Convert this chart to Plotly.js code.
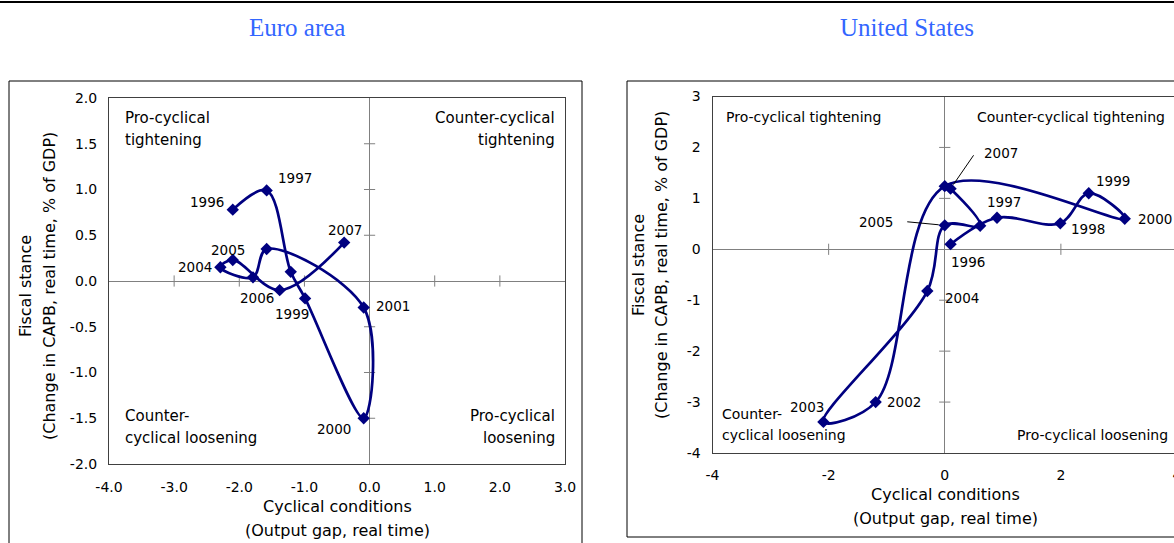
<!DOCTYPE html>
<html>
<head>
<meta charset="utf-8">
<script src="https://cdn.plot.ly/plotly-3.0.1.min.js"></script>
<style>
html, body { margin: 0; padding: 0; overflow: hidden; background: #fff; }
#chart { width: 1190px; height: 543px; }
</style>
</head>
<body>
<div id="chart"></div>
<script>
// ---------------- data ----------------
const years = ['1996','1997','1998','1999','2000','2001','2002','2003','2004','2005','2006','2007'];

// Euro area: output gap (x) and change in CAPB (y)
const euroGap    = [-2.10, -1.58, -1.21, -0.99, -0.09, -0.09, -1.58, -1.79, -2.29, -2.10, -1.38, -0.39];
const euroStance = [ 0.78,  0.99,  0.10, -0.19, -1.50, -0.29,  0.35,  0.04,  0.15,  0.23, -0.10,  0.42];

// United States
const usGap    = [0.10, 0.90, 1.99, 2.48, 3.10, 0.00, -1.19, -2.09, -0.30, 0.00, 0.61, 0.10];
const usStance = [0.10, 0.62, 0.51, 1.10, 0.60, 1.24, -3.00, -3.39, -0.82, 0.47, 0.46, 1.19];

// tick values / labels
const euroXTicks = [-4, -3, -2, -1, 0, 1, 2, 3];
const euroXTickText = ['-4.0','-3.0','-2.0','-1.0','0.0','1.0','2.0','3.0'];
const euroYTicks = [-2, -1.5, -1, -0.5, 0, 0.5, 1, 1.5, 2];
const euroYTickText = ['-2.0','-1.5','-1.0','-0.5','0.0','0.5','1.0','1.5','2.0'];
const usXTicks = [-4, -2, 0, 2, 4];
const usXTickText = ['-4','-2','0','2','4'];
const usYTicks = [-4, -3, -2, -1, 0, 1, 2, 3];
const usYTickText = ['-4','-3','-2','-1','0','1','2','3'];

// cross ticks drawn on the zero lines
const euroZeroXTicks = [-3, -2, -1, 1, 2];
const euroZeroYTicks = [-1.5, -1, -0.5, 0.5, 1, 1.5];
const usZeroXTicks = [-2, 2];
const usZeroYTicks = [-3, -2, -1, 1, 2];

// texts
const panelTitles = ['Euro area', 'United States'];
const xTitleLines = ['Cyclical conditions', '(Output gap, real time)'];
const yTitleLines = ['Fiscal stance', '(Change in CAPB, real time, % of GDP)'];
const euroQuadTL = ['Pro-cyclical', 'tightening'];
const euroQuadTR = ['Counter-cyclical', 'tightening'];
const euroQuadBL = ['Counter-', 'cyclical loosening'];
const euroQuadBR = ['Pro-cyclical', 'loosening'];
const usQuadTL = ['Pro-cyclical tightening'];
const usQuadTR = ['Counter-cyclical tightening'];
const usQuadBL = ['Counter-', 'cyclical loosening'];
const usQuadBR = ['Pro-cyclical loosening'];

// ---------------- layout helpers (pixel positions) ----------------
const W = 1190, H = 543;
const px = v => v / W;
const py = v => 1 - v / H;

const NAVY = '#000080';
const SANS = 'DejaVu Sans, Arial, sans-serif';

// label offsets in pixels (dx right, dy up) relative to the point
const euroLabelOffsets = {
  '1996': [-26, 7.5], '1997': [28.6, 12.4], '1999': [-12.6, -15.7], '2000': [-29.3, -10.4],
  '2001': [29.4, 1.5], '2004': [-25, 0.6], '2005': [-5, 10], '2006': [-23, -8.2], '2007': [0.7, 12.7]
};
const usLabelOffsets = {
  '1996': [17.4, -17.5], '1997': [7.4, 15.4], '1998': [28, -6], '1999': [24.4, 12.6],
  '2000': [30, 0], '2002': [28.5, 0], '2003': [-16.4, 15.2], '2004': [35, -7],
  '2005': [-68.5, 3.7], '2007': [50.7, 35.4]
};
// leader lines: tail offset (screen px, y down) and standoff
const usLeaders = { '2005': [-39, -3.7, 6], '2007': [24.4, -35.4, 5] };

// ---------------- traces ----------------
function pathTrace(x, y, xa, ya) {
  return {
    x: x, y: y, xaxis: xa, yaxis: ya, type: 'scatter', mode: 'lines+markers',
    line: { color: NAVY, width: 2.7, shape: 'spline', smoothing: 1 },
    marker: { symbol: 'diamond', size: 9.5, color: NAVY },
    hoverinfo: 'skip', showlegend: false, cliponaxis: false
  };
}
function tickTrace(vals, horizontal, xa, ya) {
  const zeros = vals.map(() => 0);
  return {
    x: horizontal ? vals : zeros, y: horizontal ? zeros : vals, xaxis: xa, yaxis: ya,
    type: 'scatter', mode: 'markers',
    marker: { symbol: horizontal ? 'line-ns' : 'line-ew', size: 8, color: '#808080',
              line: { width: 1, color: '#808080' } },
    hoverinfo: 'skip', showlegend: false, cliponaxis: false
  };
}

const traces = [
  tickTrace(euroZeroXTicks, true, 'x', 'y'),
  tickTrace(euroZeroYTicks, false, 'x', 'y'),
  tickTrace(usZeroXTicks, true, 'x2', 'y2'),
  tickTrace(usZeroYTicks, false, 'x2', 'y2'),
  pathTrace(euroGap, euroStance, 'x', 'y'),
  pathTrace(usGap, usStance, 'x2', 'y2')
];

// ---------------- annotations ----------------
const ann = [];
function paperText(text, x, y, opts) {
  ann.push(Object.assign({
    text: text, xref: 'paper', yref: 'paper', x: px(x), y: py(y),
    showarrow: false, xanchor: 'center', yanchor: 'middle',
    font: { family: SANS, size: 15, color: '#000' }
  }, opts || {}));
}

// panel titles
paperText(panelTitles[0], 297, 28, { font: { family: 'Liberation Serif, Times New Roman, serif', size: 25, color: '#3366ff' } });
paperText(panelTitles[1], 907, 28, { font: { family: 'Liberation Serif, Times New Roman, serif', size: 25, color: '#3366ff' } });

// axis titles
const tFont = { family: SANS, size: 16, color: '#000' };
paperText(xTitleLines[0], 337.5, 507, { font: tFont });
paperText(xTitleLines[1], 337.5, 530, { font: tFont });
paperText(xTitleLines[0], 946, 494, { font: tFont });
paperText(xTitleLines[1], 946, 518, { font: tFont });
paperText(yTitleLines[0], 25, 286, { font: tFont, textangle: -90 });
paperText(yTitleLines[1], 49, 286, { font: tFont, textangle: -90 });
paperText(yTitleLines[0], 638, 265, { font: tFont, textangle: -90 });
paperText(yTitleLines[1], 661, 265, { font: tFont, textangle: -90 });

// quadrant labels
const qE = { family: SANS, size: 15, color: '#000' };
const qU = { family: SANS, size: 14, color: '#000' };
function quad(lines, x, y0, step, anchor, font) {
  lines.forEach((t, i) => paperText(t, x, y0 + i * step, { xanchor: anchor, font: font }));
}
quad(euroQuadTL, 122.5, 118, 22, 'left', qE);
quad(euroQuadTR, 556.5, 118, 22, 'right', qE);
quad(euroQuadBL, 122.5, 416, 22, 'left', qE);
quad(euroQuadBR, 556.5, 416, 22, 'right', qE);
quad(usQuadTL, 724, 117, 21, 'left', qU);
quad(usQuadTR, 975, 117, 21, 'left', qU);
quad(usQuadBL, 720, 414, 21, 'left', qU);
quad(usQuadBR, 1014.5, 434.5, 21, 'left', qU);

// year labels
const yFont = { family: SANS, size: 13.5, color: '#000' };
years.forEach((yr, i) => {
  const e = euroLabelOffsets[yr];
  if (e) ann.push({ text: yr, x: euroGap[i], y: euroStance[i], xref: 'x', yref: 'y',
    showarrow: false, xshift: e[0], yshift: e[1], font: yFont });
  const u = usLabelOffsets[yr];
  if (u) ann.push({ text: yr, x: usGap[i], y: usStance[i], xref: 'x2', yref: 'y2',
    showarrow: false, xshift: u[0], yshift: u[1], font: yFont });
  const l = usLeaders[yr];
  if (l) ann.push({ text: ' ', x: usGap[i], y: usStance[i], xref: 'x2', yref: 'y2',
    showarrow: true, arrowhead: 0, arrowwidth: 1, arrowcolor: '#000',
    ax: l[0], ay: l[1], standoff: l[2], font: { size: 1 } });
});

// ---------------- axes ----------------
function axis(extra) {
  return Object.assign({
    showgrid: false, zeroline: true, zerolinecolor: '#808080', zerolinewidth: 1,
    showline: true, mirror: true, linecolor: '#404040', linewidth: 1,
    ticks: '', tickmode: 'array', fixedrange: true,
    tickfont: { family: SANS, size: 14, color: '#000' }
  }, extra);
}

const layout = {
  width: W, height: H,
  margin: { l: 0, r: 0, t: 0, b: 0 },
  paper_bgcolor: '#fff', plot_bgcolor: 'rgba(0,0,0,0)',
  showlegend: false, hovermode: false,
  xaxis: axis({ domain: [px(109), px(565)], range: [-4, 3], tickvals: euroXTicks, ticktext: euroXTickText, anchor: 'y', ticklabelstandoff: 10 }),
  yaxis: axis({ domain: [py(464), py(98)], range: [-2, 2], tickvals: euroYTicks, ticktext: euroYTickText, anchor: 'x', ticklabelstandoff: 8 }),
  xaxis2: axis({ domain: [px(712.5), px(1177)], range: [-4, 4], tickvals: usXTicks, ticktext: usXTickText, anchor: 'y2', ticklabelstandoff: 9 }),
  yaxis2: axis({ domain: [py(453), py(96.5)], range: [-4, 3], tickvals: usYTicks, ticktext: usYTickText, anchor: 'x2', ticklabelstandoff: 8 }),
  annotations: ann,
  shapes: [
    { type: 'line', xref: 'paper', yref: 'paper', x0: 0, x1: 1, y0: py(2), y1: py(2), line: { color: '#000', width: 2 } },
    { type: 'rect', xref: 'paper', yref: 'paper', x0: px(9), x1: px(582), y0: py(560), y1: py(81), line: { color: '#000', width: 1 } },
    { type: 'rect', xref: 'paper', yref: 'paper', x0: px(627), x1: px(1200), y0: py(537), y1: py(81), line: { color: '#000', width: 1 } }
  ]
};

Plotly.newPlot('chart', traces, layout, { staticPlot: true, displayModeBar: false });
</script>
</body>
</html>
